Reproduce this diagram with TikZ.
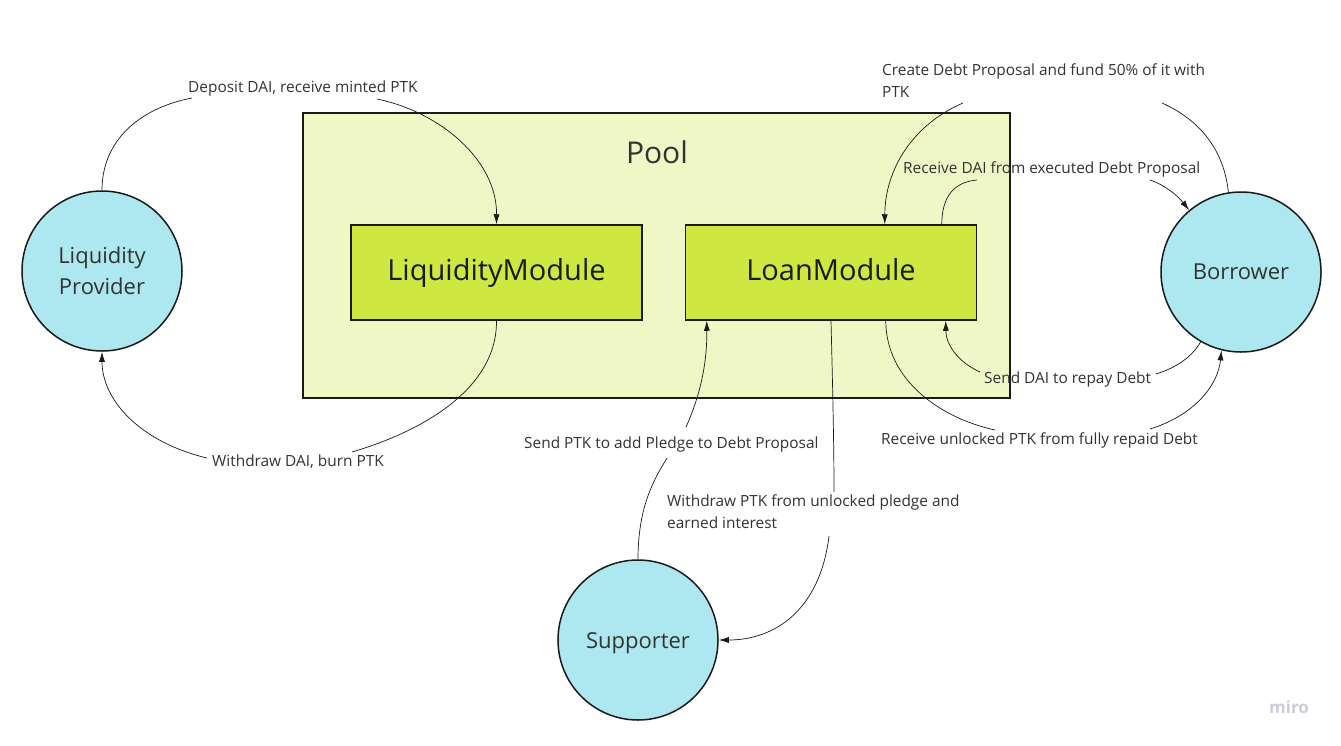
\documentclass[tikz,border=0pt]{standalone}
\usepackage{fontspec}
\setmainfont{Open Sans}
\usetikzlibrary{arrows.meta}
\definecolor{poolfill}{RGB}{239,247,199}
\definecolor{modfill}{RGB}{206,231,65}
\definecolor{actfill}{RGB}{173,231,239}
\definecolor{edgec}{RGB}{26,26,26}
\definecolor{txt}{RGB}{51,51,51}
\definecolor{logoc}{RGB}{205,205,218}
\begin{document}
\begin{tikzpicture}[x=1pt,y=-1pt,
 pool/.style={draw=edgec, line width=1.5pt, fill=poolfill, minimum width=707pt, minimum height=285pt, inner sep=0},
 module/.style={draw=edgec, line width=1.5pt, fill=modfill, minimum width=291pt, minimum height=95pt, inner sep=0, font=\fontsize{29}{34}\selectfont, text=edgec, text height=21pt, text depth=5pt},
 actor/.style={circle, draw=edgec, line width=1.5pt, fill=actfill, minimum size=160pt, inner sep=0, align=center, font=\fontsize{22}{31}\selectfont, text=txt},
 elabel/.style={font=\fontsize{15.4}{22}\selectfont, text=txt, inner sep=0, align=left, anchor=west},
 conn/.style={draw=edgec, line width=0.7pt},
 arr/.style={conn, -{Latex[length=10pt,width=6pt]}}
]
\useasboundingbox[fill=white] (0,0) rectangle (1341,745);
% containers and nodes
\node[pool] (pool) at (656.5,255.5) {};
\node[font=\fontsize{30}{36}\selectfont, text=txt] (pooltitle) at (657,152) {Pool};
\node[module] (lm) at (496.5,272.5) {LiquidityModule};
\node[module] (loan) at (831,272.5) {LoanModule};
\node[actor] (lp) at (102,271) {Liquidity\\Provider};
\node[actor] (bor) at (1241,272) {Borrower};
\node[actor, text depth=0pt, text height=16pt] (sup) at (638,640) {Supporter};
% labels
\node[elabel] (dep) at (188,88) {Deposit DAI, receive minted PTK};
\node[elabel] (wd) at (212,462) {Withdraw DAI, burn PTK};
\node[elabel] (create) at (882,80.5) {Create Debt Proposal and fund 50\% of it with\\PTK};
\node[elabel] (rdai) at (903,169) {Receive DAI from executed Debt Proposal};
\node[elabel] (sdai) at (984,379) {Send DAI to repay Debt};
\node[elabel] (runl) at (881,440) {Receive unlocked PTK from fully repaid Debt};
\node[elabel] (spl) at (524,444) {Send PTK to add Pledge to Debt Proposal};
\node[elabel] (wptk) at (667,512) {Withdraw PTK from unlocked pledge and\\earned interest};
\node[font=\fontsize{17}{20}\selectfont\bfseries, text=logoc] (logo) at (1289,707) {miro};
% gap coordinates beside labels
\coordinate (c1a) at (192,98);
\coordinate (c1b) at (377,99);
\coordinate (c2a) at (352,452);
\coordinate (c2b) at (207,458);
\coordinate (c3a) at (963,103);
\coordinate (c3b) at (1162,103);
\coordinate (c4a) at (977,180);
\coordinate (c4b) at (1150,180);
\coordinate (c5a) at (980,372);
\coordinate (c5b) at (1156,374);
\coordinate (c6a) at (995,430);
\coordinate (c6b) at (1150,429);
\coordinate (c7a) at (667,458);
\coordinate (c7b) at (686,427);
\coordinate (c8a) at (834,492);
\coordinate (c8b) at (829,536);
% connectors
\draw[conn] (lp.north) .. controls (102,140) and (140,108) .. (c1a);
\draw[arr] (c1b) .. controls (440,112) and (497,160) .. (lm.north);
\draw[conn] (lm.south) .. controls (497,390) and (420,432) .. (c2a);
\draw[arr] (c2b) .. controls (140,442) and (102,400) .. (lp.south);
\draw[conn] (bor.99) .. controls (1224,150) and (1200,120) .. (c3b);
\draw[arr] (c3a) .. controls (912,125) and (885,170) .. ([xshift=200pt]loan.north west);
\draw[conn] ([xshift=257pt]loan.north west) .. controls (942,195) and (955,182) .. (c4a);
\draw[arr] (c4b) .. controls (1165,185) and (1178,196) .. (bor.130);
\draw[conn] (bor.240) .. controls (1190,360) and (1172,369) .. (c5b);
\draw[arr] (c5a) .. controls (958,362) and (946,345) .. ([xshift=261pt]loan.south west);
\draw[conn] ([xshift=201pt]loan.south west) .. controls (886,380) and (940,418) .. (c6a);
\draw[arr] (c6b) .. controls (1195,415) and (1218,385) .. (bor.256);
\draw[conn] (sup.north) .. controls (638,505) and (655,478) .. (c7a);
\draw[arr] (c7b) .. controls (705,385) and (707,350) .. ([xshift=22pt]loan.south west);
\draw[conn] (loan.south) .. controls (833,400) and (834,450) .. (c8a);
\draw[arr] (c8b) .. controls (820,610) and (775,640) .. (sup.east);
\end{tikzpicture}
\end{document}
